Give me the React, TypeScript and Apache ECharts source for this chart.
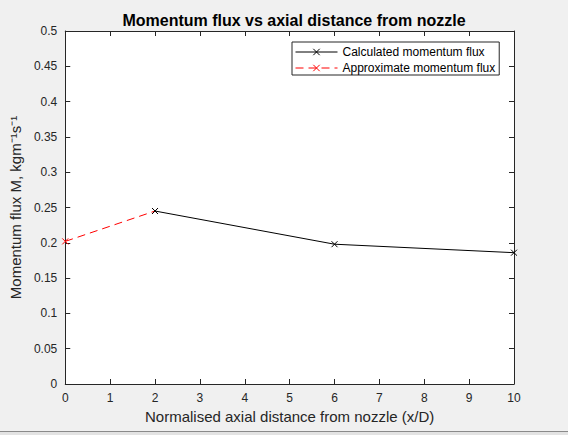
import React, { useEffect, useRef } from "react";
import * as echarts from "echarts";

const calcX = [2, 6, 10];
const calcY = [0.245, 0.198, 0.186];
const approxX = [0, 2];
const approxY = [0.202, 0.245];
const seriesNames = ["Calculated momentum flux", "Approximate momentum flux"];
const titleText = "Momentum flux vs axial distance from nozzle";
const xName = "Normalised axial distance from nozzle (x/D)";
const yName = "Momentum flux M, kgm\u207B\u00B9s\u207B\u00B9";

const FONT = "Arial, 'Liberation Sans', Helvetica, sans-serif";
const CROSS = "path://M0,0L10,10M10,0L0,10";

export default function App() {
  const ref = useRef<HTMLDivElement>(null);
  useEffect(() => {
    if (!ref.current) return;
    const chart = echarts.init(ref.current, undefined, { renderer: "svg" });
    const axisCommon = {
      axisLine: { show: true, onZero: false, lineStyle: { color: "#262626", width: 1 } },
      axisTick: { show: true, inside: true, length: 5, lineStyle: { color: "#262626" } },
      splitLine: { show: false },
    };
    chart.setOption({
      animation: false,
      backgroundColor: "#f0f0f0",
      textStyle: { fontFamily: FONT },
      title: {
        text: titleText,
        left: 289,
        textAlign: "center",
        top: 7,
        textStyle: { fontSize: 16, fontWeight: "bold", color: "#000", fontFamily: FONT },
      },
      grid: { left: 64, right: 54, top: 31, bottom: 51, show: true, backgroundColor: "#fff", borderWidth: 0 },
      legend: {
        orient: "vertical",
        left: 292,
        top: 42,
        data: seriesNames,
        backgroundColor: "#fff",
        borderColor: "#262626",
        borderWidth: 1,
        borderRadius: 0,
        padding: [4, 4, 1, 3],
        itemWidth: 42,
        itemHeight: 8,
        itemGap: 4,
        lineStyle: { width: 1 },
        itemStyle: { borderWidth: 1 },
        textStyle: { fontSize: 12, color: "#000", fontFamily: FONT },
      },
      xAxis: [
        {
          type: "value",
          min: 0,
          max: 10,
          interval: 1,
          position: "bottom",
          ...axisCommon,
          axisLabel: { fontSize: 12, color: "#262626", margin: 8, fontFamily: FONT },
          name: xName,
          nameLocation: "middle",
          nameGap: 18,
          nameTextStyle: { fontSize: 15, color: "#262626", fontFamily: FONT },
        },
        {
          type: "value",
          min: 0,
          max: 10,
          interval: 1,
          position: "top",
          ...axisCommon,
          axisLabel: { show: false },
        },
      ],
      yAxis: [
        {
          type: "value",
          min: 0,
          max: 0.5,
          interval: 0.05,
          position: "left",
          ...axisCommon,
          axisLabel: { fontSize: 12, color: "#262626", margin: 8, fontFamily: FONT },
          name: yName,
          nameLocation: "middle",
          nameGap: 36,
          nameTextStyle: { fontSize: 15, color: "#262626", fontFamily: FONT },
        },
        {
          type: "value",
          min: 0,
          max: 0.5,
          interval: 0.05,
          position: "right",
          ...axisCommon,
          axisLabel: { show: false },
        },
      ],
      series: [
        {
          name: seriesNames[0],
          type: "line",
          data: calcX.map((x, i) => [x, calcY[i]]),
          symbol: CROSS,
          symbolSize: 6,
          showAllSymbol: true,
          lineStyle: { color: "#000", width: 1 },
          itemStyle: { color: "none", borderColor: "#000", borderWidth: 1 },
          z: 3,
        },
        {
          name: seriesNames[1],
          type: "line",
          data: approxX.map((x, i) => [x, approxY[i]]),
          symbol: CROSS,
          symbolSize: 6,
          showAllSymbol: true,
          lineStyle: { color: "#ff0000", width: 1, type: [8, 5] },
          itemStyle: { color: "none", borderColor: "#ff0000", borderWidth: 1 },
          z: 2,
        },
      ],
      graphic: [
        { type: "rect", shape: { x: 0, y: 431, width: 568, height: 1 }, style: { fill: "#8a8a8a" }, silent: true },
        { type: "rect", shape: { x: 0, y: 432, width: 568, height: 3 }, style: { fill: "#e3e3e3" }, silent: true },
      ],
    });
    return () => chart.dispose();
  }, []);
  return (
    <div
      ref={ref}
      style={{ position: "fixed", left: 0, top: 0, width: 568, height: 435 }}
    />
  );
}
